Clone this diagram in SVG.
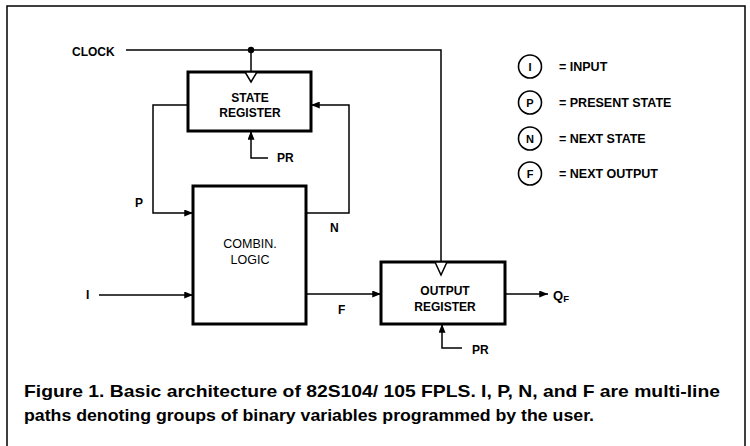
<svg xmlns="http://www.w3.org/2000/svg" width="750" height="446" viewBox="0 0 750 446">
<defs>
<marker id="ah" viewBox="0 0 10 8" refX="10" refY="4" markerWidth="10" markerHeight="7" markerUnits="userSpaceOnUse" orient="auto">
<path d="M0,0 L10,4 L0,8 Z" fill="#000"/>
</marker>
<style>
text{font-family:"Liberation Sans",Arial,sans-serif;fill:#000}
.lb{font-size:12px;font-weight:bold}
.lr{font-size:12.5px}
.lg{font-size:12.5px;font-weight:bold}
.cl{font-size:11px;font-weight:bold}
.cap{font-size:17px;font-weight:bold}
.box{fill:#fff;stroke:#000;stroke-width:3}
.ln{fill:none;stroke:#000;stroke-width:1.5}
.circ{fill:none;stroke:#000;stroke-width:1.6}
</style>
</defs>
<rect width="750" height="446" fill="#fff"/>
<rect x="7" y="6" width="738" height="460" fill="none" stroke="#000" stroke-width="1.5"/>

<g id="connectors">
<text class="lb" x="72" y="55.5">CLOCK</text>
<path class="ln" d="M126,50 H441 V262"/>
<circle cx="251" cy="50" r="3.2" fill="#000"/>
<path class="ln" d="M251,50 V72"/>
<path class="ln" d="M188,105 H153 V213 H193" marker-end="url(#ah)"/>
<path class="ln" d="M306,213 H349 V105 H311" marker-end="url(#ah)"/>
<path class="ln" d="M268,158 H251 V131" marker-end="url(#ah)"/>
<text class="lb" x="277" y="162">PR</text>
<text class="lb" x="135" y="207">P</text>
<text class="lb" x="330" y="231.5">N</text>
<path class="ln" d="M99,295 H193" marker-end="url(#ah)"/>
<text class="lb" x="86" y="299">I</text>
<path class="ln" d="M306,294 H381" marker-end="url(#ah)"/>
<text class="lb" x="338" y="313.5">F</text>
<path class="ln" d="M505,294 H548" marker-end="url(#ah)"/>
<text class="lb" x="553" y="299.5"><tspan font-size="13">Q</tspan><tspan font-size="9.5" dy="2">F</tspan></text>
<path class="ln" d="M462,348 H442 V324" marker-end="url(#ah)"/>
<text class="lb" x="472" y="353.5">PR</text>
</g>

<g id="state-register">
<rect class="box" x="188" y="72" width="123" height="59"/>
<path d="M245,72 L257,72 L251,82 Z" fill="#fff" stroke="#000" stroke-width="1.5"/>
<text class="lb" x="250" y="101.5" text-anchor="middle">STATE</text>
<text class="lb" x="250" y="117" text-anchor="middle">REGISTER</text>
</g>

<g id="combin-logic">
<rect class="box" x="193" y="186" width="113" height="138"/>
<text class="lr" x="250" y="247.5" text-anchor="middle">COMBIN.</text>
<text class="lr" x="250" y="263.5" text-anchor="middle">LOGIC</text>
</g>

<g id="output-register">
<rect class="box" x="381" y="262" width="124" height="62"/>
<path d="M435,262 L447,262 L441,275 Z" fill="#fff" stroke="#000" stroke-width="1.5"/>
<text class="lb" x="445" y="295" text-anchor="middle">OUTPUT</text>
<text class="lb" x="445" y="311" text-anchor="middle">REGISTER</text>
</g>

<g id="legend">
<circle class="circ" cx="530" cy="66.5" r="11.5"/>
<text class="cl" x="530" y="70.5" text-anchor="middle">I</text>
<text class="lg" x="559" y="71">= INPUT</text>
<circle class="circ" cx="530" cy="102.5" r="11.5"/>
<text class="cl" x="530" y="106.5" text-anchor="middle">P</text>
<text class="lg" x="559" y="107">= PRESENT STATE</text>
<circle class="circ" cx="530" cy="138.5" r="11.5"/>
<text class="cl" x="530" y="142.5" text-anchor="middle">N</text>
<text class="lg" x="559" y="143">= NEXT STATE</text>
<circle class="circ" cx="530" cy="173.5" r="11.5"/>
<text class="cl" x="530" y="177.5" text-anchor="middle">F</text>
<text class="lg" x="559" y="178">= NEXT OUTPUT</text>
</g>

<g id="caption">
<text class="cap" x="24" y="397" textLength="696" lengthAdjust="spacingAndGlyphs">Figure 1. Basic architecture of 82S104/ 105 FPLS. I, P, N, and F are multi-line</text>
<text class="cap" x="24" y="421" textLength="570" lengthAdjust="spacingAndGlyphs">paths denoting groups of binary variables programmed by the user.</text>
</g>
</svg>
